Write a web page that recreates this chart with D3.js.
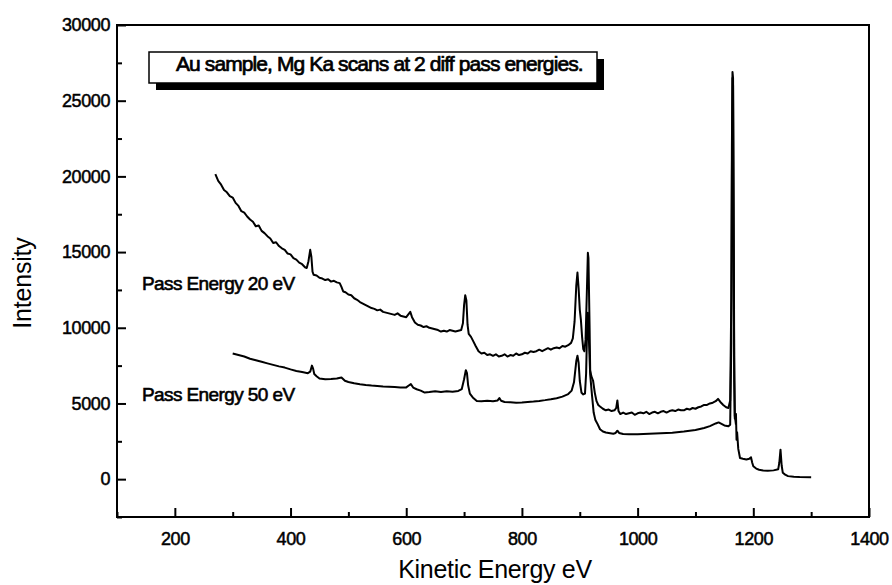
<!DOCTYPE html>
<html>
<head>
<meta charset="utf-8">
<script src="https://cdn.jsdelivr.net/npm/d3@7/dist/d3.min.js"></script>
<style>
  html, body { margin: 0; padding: 0; background: #fff; }
  svg { display: block; }
  text { font-family: "Liberation Sans", Arial, sans-serif; fill: #000; }
</style>
</head>
<body>
<svg id="chart" width="892" height="585"></svg>
<script>
// XPS survey spectra of a gold sample, Mg Ka source, two analyser pass energies.

const energy20 = [
  270, 275, 280, 285, 290, 295, 300, 305, 310, 315, 320, 325, 330, 335, 340, 345, 350, 355, 360, 365,
  370, 375, 380, 385, 390, 395, 400, 405, 410, 415, 420, 425, 428, 431, 434, 436, 438, 440, 445, 450,
  455, 460, 465, 470, 475, 480, 485, 488, 491, 495, 500, 505, 510, 515, 520, 525, 530, 535, 540, 545,
  550, 555, 560, 565, 570, 575, 580, 585, 590, 595, 600, 604, 607, 610, 615, 620, 625, 630, 635, 640,
  645, 650, 655, 660, 665, 670, 675, 680, 685, 690, 695, 698, 700, 702, 704, 706, 708, 712, 716, 720,
  725, 730, 735, 740, 745, 750, 755, 760, 765, 770, 775, 780, 785, 790, 795, 800, 805, 810, 815, 820,
  825, 830, 835, 840, 845, 850, 855, 860, 865, 870, 875, 880, 885, 888, 891, 894, 896, 898, 900, 902,
  904, 906, 908, 910, 912, 914, 915, 917, 918, 920, 923, 926, 929, 932, 935, 940, 945, 950, 955, 960,
  963, 965, 967, 970, 975, 980, 985, 990, 995, 1000, 1005, 1010, 1015, 1020, 1025, 1030, 1035, 1040, 1045, 1050,
  1055, 1060, 1065, 1070, 1075, 1080, 1085, 1090, 1095, 1100, 1105, 1110, 1115, 1120, 1125, 1130, 1135, 1139, 1143, 1148,
  1153, 1157, 1160, 1162, 1163, 1164, 1165, 1166, 1167, 1168, 1170
];
const counts20 = [
  20150, 19700, 19450, 19100, 18950, 18700, 18600, 18250, 18050, 17700, 17600, 17350, 17150, 17000, 16700, 16750, 16400, 16250, 16050, 15900,
  15600, 15650, 15400, 15250, 15150, 14900, 14850, 14600, 14500, 14300, 14200, 14000, 13950, 14400, 15150, 14700, 13700, 13500, 13450, 13300,
  13250, 13150, 13200, 13050, 13100, 13000, 12950, 12700, 12400, 12350, 12200, 12150, 11950, 11850, 11700, 11600, 11500, 11400, 11300, 11250,
  11150, 11200, 11050, 11000, 10950, 10900, 10850, 10950, 10800, 10750, 10700, 10900, 11050, 10700, 10350, 10200, 10150, 10050, 10100, 10000,
  9950, 9900, 9850, 9750, 9800, 9750, 9850, 9800, 9750, 9800, 9850, 10300, 11500, 12150, 11800, 10200, 9600, 9400, 9100, 8800,
  8450, 8300, 8350, 8200, 8250, 8150, 8250, 8100, 8150, 8250, 8100, 8200, 8150, 8300, 8200, 8250, 8350, 8300, 8450, 8400,
  8450, 8550, 8450, 8550, 8650, 8550, 8650, 8700, 8650, 8800, 8750, 8850, 9000, 9300, 10400, 12800, 13650, 12600, 11200, 10500,
  9400, 8600, 8450, 9200, 12000, 14950, 14600, 10000, 7200, 6800, 6500, 5700, 5150, 4900, 4800, 4650, 4550, 4600, 4500, 4550,
  4700, 5200, 4500, 4300, 4400, 4300, 4350, 4400, 4250, 4350, 4400, 4350, 4450, 4300, 4400, 4450, 4350, 4450, 4500, 4400,
  4500, 4550, 4500, 4600, 4550, 4550, 4650, 4600, 4700, 4650, 4750, 4800, 4900, 4900, 5000, 5050, 5150, 5300, 5100, 4900,
  4750, 4700, 5200, 12000, 22000, 26900, 26500, 18000, 8000, 4200, 3600
];

const energy50 = [
  300, 310, 320, 330, 340, 350, 360, 370, 380, 390, 400, 410, 420, 430, 434, 437, 439, 441, 445, 450,
  460, 470, 480, 488, 494, 500, 510, 520, 530, 540, 550, 560, 570, 580, 590, 600, 605, 608, 612, 618,
  625, 632, 640, 650, 660, 670, 680, 690, 696, 700, 703, 705, 707, 710, 715, 722, 730, 740, 750, 758,
  761, 764, 770, 780, 790, 800, 810, 820, 830, 840, 850, 860, 870, 880, 886, 890, 894, 896, 898, 900,
  903, 906, 909, 911, 913, 914, 916, 918, 921, 924, 927, 930, 935, 940, 945, 950, 958, 962, 965, 968,
  975, 985, 1000, 1020, 1040, 1060, 1080, 1100, 1115, 1125, 1135, 1140, 1145, 1150, 1157, 1160, 1162, 1163, 1164, 1165,
  1166, 1167, 1168, 1170, 1171, 1172, 1174, 1177, 1182, 1188, 1193, 1196, 1198, 1200, 1205, 1210, 1217, 1225, 1235, 1243,
  1245, 1247, 1249, 1251, 1255, 1260, 1270, 1280, 1300
];
const counts50 = [
  8300, 8200, 8100, 7950, 7850, 7750, 7650, 7550, 7450, 7370, 7250, 7150, 7080, 7000, 7100, 7500, 7300, 6950, 6800, 6650,
  6600, 6620, 6650, 6720, 6500, 6420, 6330, 6270, 6220, 6180, 6150, 6120, 6100, 6080, 6060, 6060, 6200, 6280, 6050, 5940,
  5850, 5720, 5750, 5800, 5760, 5800, 5780, 5830, 5950, 6600, 7200, 7000, 6200, 5650, 5400, 5170, 5150, 5180, 5150, 5200,
  5350, 5180, 5100, 5080, 5050, 5070, 5100, 5130, 5170, 5220, 5280, 5350, 5450, 5620, 5850, 6400, 7800, 8150, 7700, 6500,
  5700, 5600, 5650, 7000, 10500, 11000, 9000, 6900, 5600, 4400, 3900, 3700, 3300, 3150, 3080, 3050, 3000, 3050, 3200, 3050,
  2980, 2960, 2960, 3000, 3030, 3070, 3150, 3250, 3380, 3500, 3680, 3750, 3650, 3550, 3500, 3600, 9000, 20000, 26500, 26000,
  16000, 6500, 4000, 4300, 2600, 3100, 2000, 1400, 1350, 1300, 1350, 1450, 1100, 850, 700, 620, 570, 560, 580, 650,
  1100, 1950, 900, 420, 300, 200, 160, 140, 130
];

const xMajorTicks = [200, 400, 600, 800, 1000, 1200, 1400];
const xMinorTicks = [100, 300, 500, 700, 900, 1100, 1300];
const yMajorTicks = [0, 5000, 10000, 15000, 20000, 25000, 30000];
const yMinorTicks = [-2500, 2500, 7500, 12500, 17500, 22500, 27500];

const titleText = "Au sample, Mg Ka scans at 2 diff  pass energies.";
const label20 = "Pass Energy 20 eV";
const label50 = "Pass Energy 50 eV";
const xTitle = "Kinetic Energy  eV";
const yTitle = "Intensity";

const svg = d3.select("#chart");
const plot = { left: 117, right: 869, top: 25, bottom: 517 };

const x = d3.scaleLinear().domain([100, 1400]).range([plot.left, plot.right]);
const y = d3.scaleLinear().domain([-2500, 30000]).range([plot.bottom, plot.top]);

// Spectra
const line = d3.line().x(d => x(d[0])).y(d => y(d[1]));
const series = [
  d3.zip(energy50, counts50),
  d3.zip(energy20, counts20)
];
svg.append("g").selectAll("path").data(series).join("path")
  .attr("d", line)
  .attr("fill", "none")
  .attr("stroke", "#000")
  .attr("stroke-width", 2)
  .attr("stroke-linejoin", "round");

// Plot frame
svg.append("rect")
  .attr("x", plot.left).attr("y", plot.top)
  .attr("width", plot.right - plot.left).attr("height", plot.bottom - plot.top)
  .attr("fill", "none").attr("stroke", "#000").attr("stroke-width", 2);

// Axes with inward ticks
function styleAxis(g) {
  g.select(".domain").remove();
  g.selectAll(".tick line").attr("stroke", "#000").attr("stroke-width", 2);
  g.selectAll(".tick text").attr("font-size", 18).attr("fill", "#000")
    .attr("font-family", "'Liberation Sans', Arial, sans-serif")
    .attr("stroke", "#000").attr("stroke-width", 0.5)
    .attr("letter-spacing", "-0.4px");
}

svg.append("g").attr("transform", `translate(0,${plot.bottom})`)
  .call(d3.axisBottom(x).tickValues(xMajorTicks).tickSize(-9).tickPadding(15).tickFormat(d3.format("d")))
  .call(styleAxis);
svg.append("g").attr("transform", `translate(0,${plot.bottom})`)
  .call(d3.axisBottom(x).tickValues(xMinorTicks).tickSize(-5).tickFormat(""))
  .call(styleAxis);

svg.append("g").attr("transform", `translate(${plot.left},0)`)
  .call(d3.axisLeft(y).tickValues(yMajorTicks).tickSize(-9).tickPadding(7).tickFormat(d3.format("d")))
  .call(styleAxis);
svg.append("g").attr("transform", `translate(${plot.left},0)`)
  .call(d3.axisLeft(y).tickValues(yMinorTicks).tickSize(-5).tickFormat(""))
  .call(styleAxis);

// Axis titles
svg.append("text")
  .attr("x", 495).attr("y", 578)
  .attr("text-anchor", "middle")
  .attr("font-size", 25)
  .attr("letter-spacing", "-0.3px")
  .text(xTitle);

svg.append("text")
  .attr("transform", "translate(31,283) rotate(-90)")
  .attr("text-anchor", "middle")
  .attr("font-size", 25)
  .attr("letter-spacing", "-0.2px")
  .text(yTitle);

// Title box with drop shadow
const box = { x: 149, y: 52, w: 448, h: 31, shadow: 7 };
svg.append("rect")
  .attr("x", box.x + box.shadow).attr("y", box.y + box.shadow)
  .attr("width", box.w).attr("height", box.h)
  .attr("fill", "#000");
svg.append("rect")
  .attr("x", box.x).attr("y", box.y)
  .attr("width", box.w).attr("height", box.h)
  .attr("fill", "#fff").attr("stroke", "#000").attr("stroke-width", 1.5);
svg.append("text")
  .attr("x", 176).attr("y", 71)
  .attr("font-size", 21)
  .attr("letter-spacing", "-0.9px")
  .attr("stroke", "#000").attr("stroke-width", 0.7)
  .text(titleText);

// Series labels
svg.append("text")
  .attr("x", 142).attr("y", 290)
  .attr("font-size", 19).attr("letter-spacing", "-0.6px")
  .attr("stroke", "#000").attr("stroke-width", 0.6)
  .text(label20);
svg.append("text")
  .attr("x", 142).attr("y", 401)
  .attr("font-size", 19).attr("letter-spacing", "-0.6px")
  .attr("stroke", "#000").attr("stroke-width", 0.6)
  .text(label50);
</script>
</body>
</html>
